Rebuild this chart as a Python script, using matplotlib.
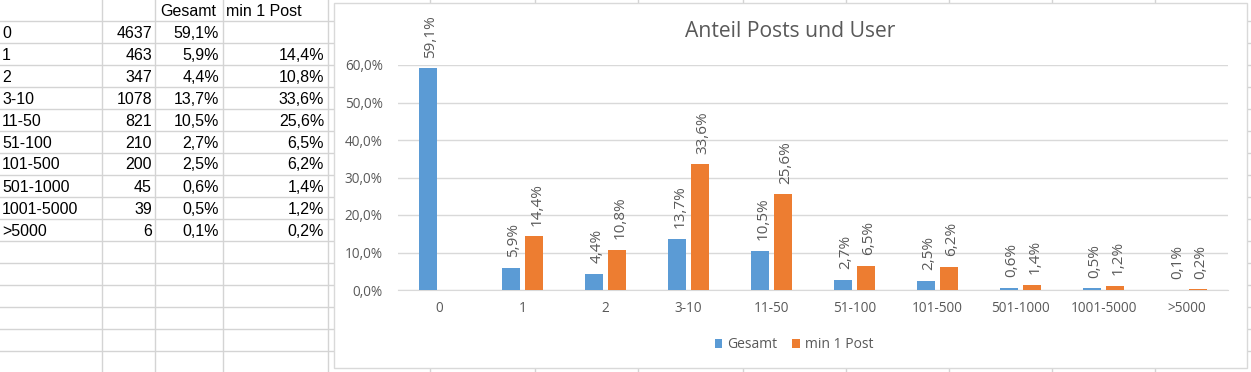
import numpy as np
import matplotlib
matplotlib.use("Agg")
import matplotlib.pyplot as plt
from matplotlib.lines import Line2D
from matplotlib.patches import Rectangle

# ---- data ----
categories = ["0", "1", "2", "3-10", "11-50", "51-100", "101-500", "501-1000", "1001-5000", ">5000"]
counts = [4637, 463, 347, 1078, 821, 210, 200, 45, 39, 6]
gesamt = [59.1, 5.9, 4.4, 13.7, 10.5, 2.7, 2.5, 0.6, 0.5, 0.1]
min1post = [np.nan, 14.4, 10.8, 33.6, 25.6, 6.5, 6.2, 1.4, 1.2, 0.2]
series_names = ["Gesamt", "min 1 Post"]
title = "Anteil Posts und User"
y_ticks = [0, 10, 20, 30, 40, 50, 60]

W, H = 1251, 372
fig = plt.figure(figsize=(W / 100, H / 100), dpi=100)
fig.patch.set_facecolor("white")

def fx(x):
    return x / W

def fy(y):
    return 1 - y / H

def pct(v, d=1):
    return (f"{v:.{d}f}%").replace(".", ",")

GRID = "#D4D4D4"
# spreadsheet grid
row_lines = [21 + 22 * k for k in range(16)]
col_lines = [102, 155, 223, 328, 430, 535, 638, 743, 846, 949, 1052, 1155]
for y in row_lines:
    fig.add_artist(Line2D([0, 1], [fy(y), fy(y)], color=GRID, lw=1, zorder=0))
for x in col_lines:
    fig.add_artist(Line2D([fx(x), fx(x)], [0, 1], color=GRID, lw=1, zorder=0))

tfont = dict(family="Liberation Sans", fontsize=11.5, color="black", zorder=1)
fig.text(fx(160), fy(16), series_names[0], ha="left", va="baseline", **tfont)
fig.text(fx(226), fy(16), series_names[1], ha="left", va="baseline", **tfont)
for i, cat in enumerate(categories):
    yb = 37.5 + 22 * i
    fig.text(fx(2), fy(yb), cat, ha="left", va="baseline", **tfont)
    fig.text(fx(152), fy(yb), str(counts[i]), ha="right", va="baseline", **tfont)
    fig.text(fx(219), fy(yb), pct(gesamt[i]), ha="right", va="baseline", **tfont)
    if not np.isnan(min1post[i]):
        fig.text(fx(324), fy(yb), pct(min1post[i]), ha="right", va="baseline", **tfont)

# chart area
fig.add_artist(Rectangle((fx(334), fy(368)), fx(1247 - 334), (368 - 3) / H,
                         facecolor="white", edgecolor="#D9D9D9", lw=1, zorder=1))

TXT = "#595959"
BLUE = "#5B9BD5"
ORANGE = "#ED7D31"
cfont = "Open Sans"

ax = fig.add_axes([fx(398), fy(290), fx(1228 - 398), (290 - 65) / H])
ax.set_zorder(2)
ax.patch.set_alpha(0)
x = np.arange(len(categories))
bw = 0.223
off = 0.14
b1 = ax.bar(x - off, gesamt, bw, color=BLUE, label=series_names[0], zorder=3)
b2 = ax.bar(x + off, np.nan_to_num(min1post), bw, color=ORANGE, label=series_names[1], zorder=3)

for bars, vals in ((b1, gesamt), (b2, min1post)):
    for r, v in zip(bars, vals):
        if np.isnan(v):
            continue
        ax.annotate(pct(v), (r.get_x() + r.get_width() / 2, v), xytext=(2, 7.5),
                    textcoords="offset points", rotation=90, ha="center", va="bottom",
                    fontsize=11, color=TXT, family=cfont, annotation_clip=False)

ax.set_xlim(-0.5, len(categories) - 0.5)
ax.set_ylim(0, 60)
ax.set_yticks(y_ticks)
ax.set_yticklabels([pct(v) for v in y_ticks])
ax.set_xticks(x)
ax.set_xticklabels(categories)
ax.yaxis.grid(True, color="#D9D9D9", lw=1, zorder=0)
ax.set_axisbelow(True)
for s in ["top", "right", "left"]:
    ax.spines[s].set_visible(False)
ax.spines["bottom"].set_color("#D9D9D9")
ax.tick_params(axis="both", length=0, colors=TXT, labelsize=9.8)
ax.tick_params(axis="y", pad=11)
ax.tick_params(axis="x", pad=8)
for lab in ax.get_xticklabels() + ax.get_yticklabels():
    lab.set_family(cfont)

fig.text(fx(790), fy(37), title, ha="center", va="baseline", fontsize=15.2,
         color=TXT, family=cfont, zorder=3)

leg = ax.legend(loc="center", bbox_to_anchor=(fx(794), fy(345)), bbox_transform=fig.transFigure,
                ncol=2, frameon=False, handlelength=0.55, handleheight=0.55,
                columnspacing=1.1, handletextpad=0.35, prop={"family": cfont, "size": 10})
for t in leg.get_texts():
    t.set_color(TXT)

fig.savefig("out.png", dpi=100)
